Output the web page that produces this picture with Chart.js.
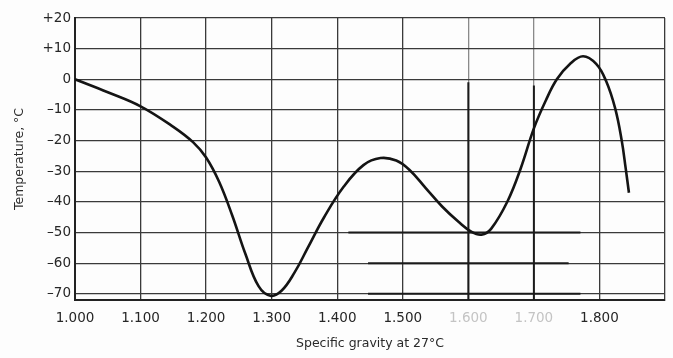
<!DOCTYPE html>
<html>
<head>
<meta charset="utf-8">
<script src="https://cdn.jsdelivr.net/npm/chart.js@4/dist/chart.umd.min.js"></script>
<style>
  html, body { margin: 0; padding: 0; background: #fdfdfd; }
  #wrap { width: 673px; height: 358px; }
</style>
</head>
<body>
<div id="wrap"><canvas id="c" width="673" height="358"></canvas></div>
<script>
// Freezing point of the solution vs. specific gravity
const gravity = [1.000, 1.050, 1.100, 1.150, 1.180, 1.200, 1.220, 1.240, 1.260, 1.280, 1.298,
  1.315, 1.335, 1.355, 1.380, 1.410, 1.440, 1.466, 1.490, 1.510, 1.535, 1.560, 1.585, 1.605,
  1.620, 1.635, 1.660, 1.680, 1.700, 1.718, 1.735, 1.755, 1.775, 1.795, 1.810, 1.824,
  1.834, 1.840, 1.845];
const temperature = [0, -4.2, -8.8, -15.5, -20.5, -25.5, -33.5, -44.5, -57, -67.5, -70.6,
  -69, -63, -55, -45, -35, -28, -25.7, -26.5, -29.5, -35.5, -41.5, -46.5, -49.8,
  -50.7, -48.7, -39.7, -29, -16, -7, 0, 5, 7.5, 5, -0.5, -9.5,
  -20, -29, -37];

// Heavy rule segments drawn over the grid
const ruleVerticalX = [1.600, 1.700];
const ruleVerticalTop = [-1, -2];
const ruleHorizontalY = [-50, -60, -70];
const ruleHorizontalFrom = [1.417, 1.447, 1.447];
const ruleHorizontalTo = [1.771, 1.753, 1.771];

// Axis ticks
const xTicks = [1.0, 1.1, 1.2, 1.3, 1.4, 1.5, 1.6, 1.7, 1.8];
const fadedXTicks = [1.6, 1.7];
const yTickLabels = { 20: '+20', 10: '+10', 0: '0', '-10': '–10', '-20': '–20', '-30': '–30',
  '-40': '–40', '-50': '–50', '-60': '–60', '-70': '–70' };

const curve = gravity.map((g, i) => ({ x: g, y: temperature[i] }));

const ruleSets = [];
ruleVerticalX.forEach((x, i) => {
  ruleSets.push({ data: [{ x: x, y: ruleVerticalTop[i] }, { x: x, y: -72 }] });
});
ruleHorizontalY.forEach((y, i) => {
  ruleSets.push({ data: [{ x: ruleHorizontalFrom[i], y: y }, { x: ruleHorizontalTo[i], y: y }] });
});

const near = (a, b) => Math.abs(a - b) < 1e-6;
const isFaded = v => fadedXTicks.some(t => near(t, v));

const datasets = [
  ...ruleSets.map(r => ({
    type: 'line', data: r.data, borderColor: '#1a1a1a', borderWidth: 2,
    pointRadius: 0, tension: 0, order: 2
  })),
  {
    type: 'line', data: curve, borderColor: '#141414', borderWidth: 2.6,
    pointRadius: 0, tension: 0.4, order: 1
  }
];

const tickFont = { family: 'DejaVu Sans, sans-serif', size: 13.5 };
const titleFont = { family: 'DejaVu Sans, sans-serif', size: 12.5 };

new Chart(document.getElementById('c'), {
  type: 'scatter',
  data: { datasets },
  options: {
    responsive: false,
    animation: false,
    layout: { padding: { top: 18, right: 8, left: 0, bottom: 0 } },
    plugins: { legend: { display: false }, tooltip: { enabled: false } },
    scales: {
      x: {
        type: 'linear', min: 1.0, max: 1.9,
        afterBuildTicks: s => { s.ticks = xTicks.concat([1.9]).map(v => ({ value: v })); },
        afterFit: s => { s.height = 58; s.paddingLeft = 0; s.paddingRight = 0; },
        border: { color: '#222', width: 2 },
        grid: {
          drawTicks: false,
          color: c => (c.tick && isFaded(c.tick.value)) ? '#8a8a8a' : '#3a3a3a',
          lineWidth: 1.3
        },
        ticks: {
          padding: 10, font: tickFont,
          color: c => isFaded(c.tick.value) ? '#c4c4c4' : '#262626',
          callback: v => near(v, 1.9) ? '' : v.toFixed(3),
          maxRotation: 0, autoSkip: false
        },
        title: {
          display: true, text: 'Specific gravity at 27°C', color: '#2a2a2a',
          font: titleFont,
          padding: { top: 8, bottom: 7 }
        }
      },
      y: {
        type: 'linear', min: -72, max: 20,
        afterBuildTicks: s => {
          s.ticks = [-72, -70, -60, -50, -40, -30, -20, -10, 0, 10, 20].map(v => ({ value: v }));
        },
        afterFit: s => { s.width = 75; s.paddingTop = 0; s.paddingBottom = 0; },
        border: { color: '#222', width: 2 },
        grid: { drawTicks: false, color: '#3a3a3a', lineWidth: 1.3 },
        ticks: {
          padding: 4, font: tickFont, color: '#262626',
          callback: v => (yTickLabels[v] !== undefined ? yTickLabels[v] : '')
        },
        title: {
          display: true, text: 'Temperature, °C', color: '#2a2a2a',
          font: titleFont,
          padding: { top: 12, bottom: 0 }
        }
      }
    }
  }
});
</script>
</body>
</html>
